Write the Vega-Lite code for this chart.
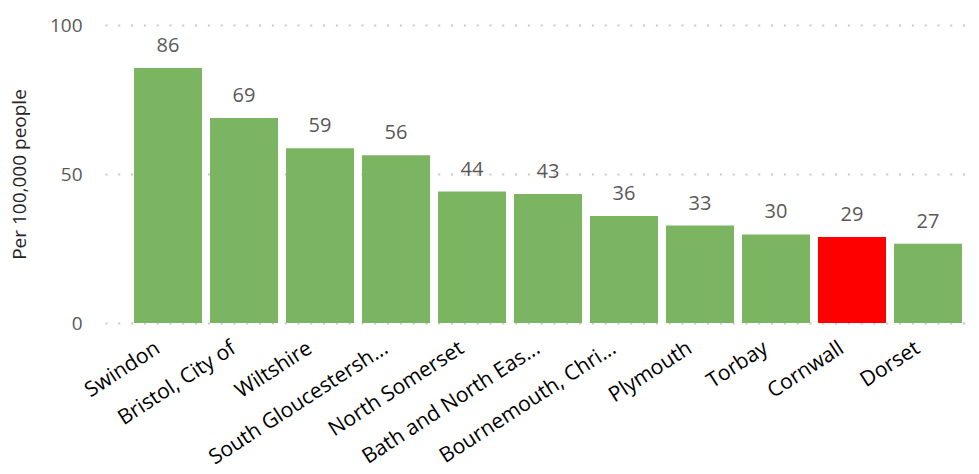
{
  "$schema": "https://vega.github.io/schema/vega-lite/v6.json",
  "autosize": "none",
  "width": 865,
  "height": 298,
  "padding": {"left": 105, "top": 25, "right": 9, "bottom": 151},
  "background": "white",
  "config": {
    "font": "Open Sans",
    "view": {"stroke": null}
  },
  "data": {
    "values": [
      {"region": "Swindon", "rate": 85.6},
      {"region": "Bristol, City of", "rate": 68.8},
      {"region": "Wiltshire", "rate": 58.6},
      {"region": "South Gloucestersh...", "rate": 56.3},
      {"region": "North Somerset", "rate": 44.1},
      {"region": "Bath and North Eas...", "rate": 43.3},
      {"region": "Bournemouth, Chri...", "rate": 35.9},
      {"region": "Plymouth", "rate": 32.7},
      {"region": "Torbay", "rate": 29.7},
      {"region": "Cornwall", "rate": 28.9},
      {"region": "Dorset", "rate": 26.6}
    ]
  },
  "encoding": {
    "x": {
      "field": "region",
      "type": "nominal",
      "sort": null,
      "scale": {"paddingInner": 0.105, "paddingOuter": 0.2435, "align": 0.784},
      "axis": {
        "title": null,
        "domain": false,
        "ticks": false,
        "labelAngle": -33,
        "labelAlign": "right",
        "labelBaseline": "top",
        "labelPadding": 14,
        "labelOffset": -16,
        "labelFontSize": 21,
        "labelColor": "#000000",
        "labelLimit": 300
      }
    },
    "y": {
      "field": "rate",
      "type": "quantitative",
      "scale": {"domain": [0, 100]},
      "axis": {
        "title": "Per 100,000 people",
        "titleFontSize": 19,
        "titleFontWeight": "normal",
        "titleColor": "#262626",
        "titlePadding": 20,
        "values": [0, 50, 100],
        "domain": false,
        "ticks": false,
        "labelPadding": 23,
        "labelFontSize": 19,
        "labelColor": "#595959",
        "gridColor": "#c8c8c8",
        "gridWidth": 2,
        "gridDash": [2, 10.8]
      }
    }
  },
  "layer": [
    {
      "mark": {"type": "bar"},
      "encoding": {
        "color": {
          "condition": {"test": "datum.region === 'Cornwall'", "value": "#ff0000"},
          "value": "#7cb562"
        }
      }
    },
    {
      "mark": {"type": "text", "baseline": "alphabetic", "dy": -16, "fontSize": 20, "color": "#595959"},
      "encoding": {
        "text": {"field": "rate", "type": "quantitative", "format": ".0f"}
      }
    }
  ]
}
